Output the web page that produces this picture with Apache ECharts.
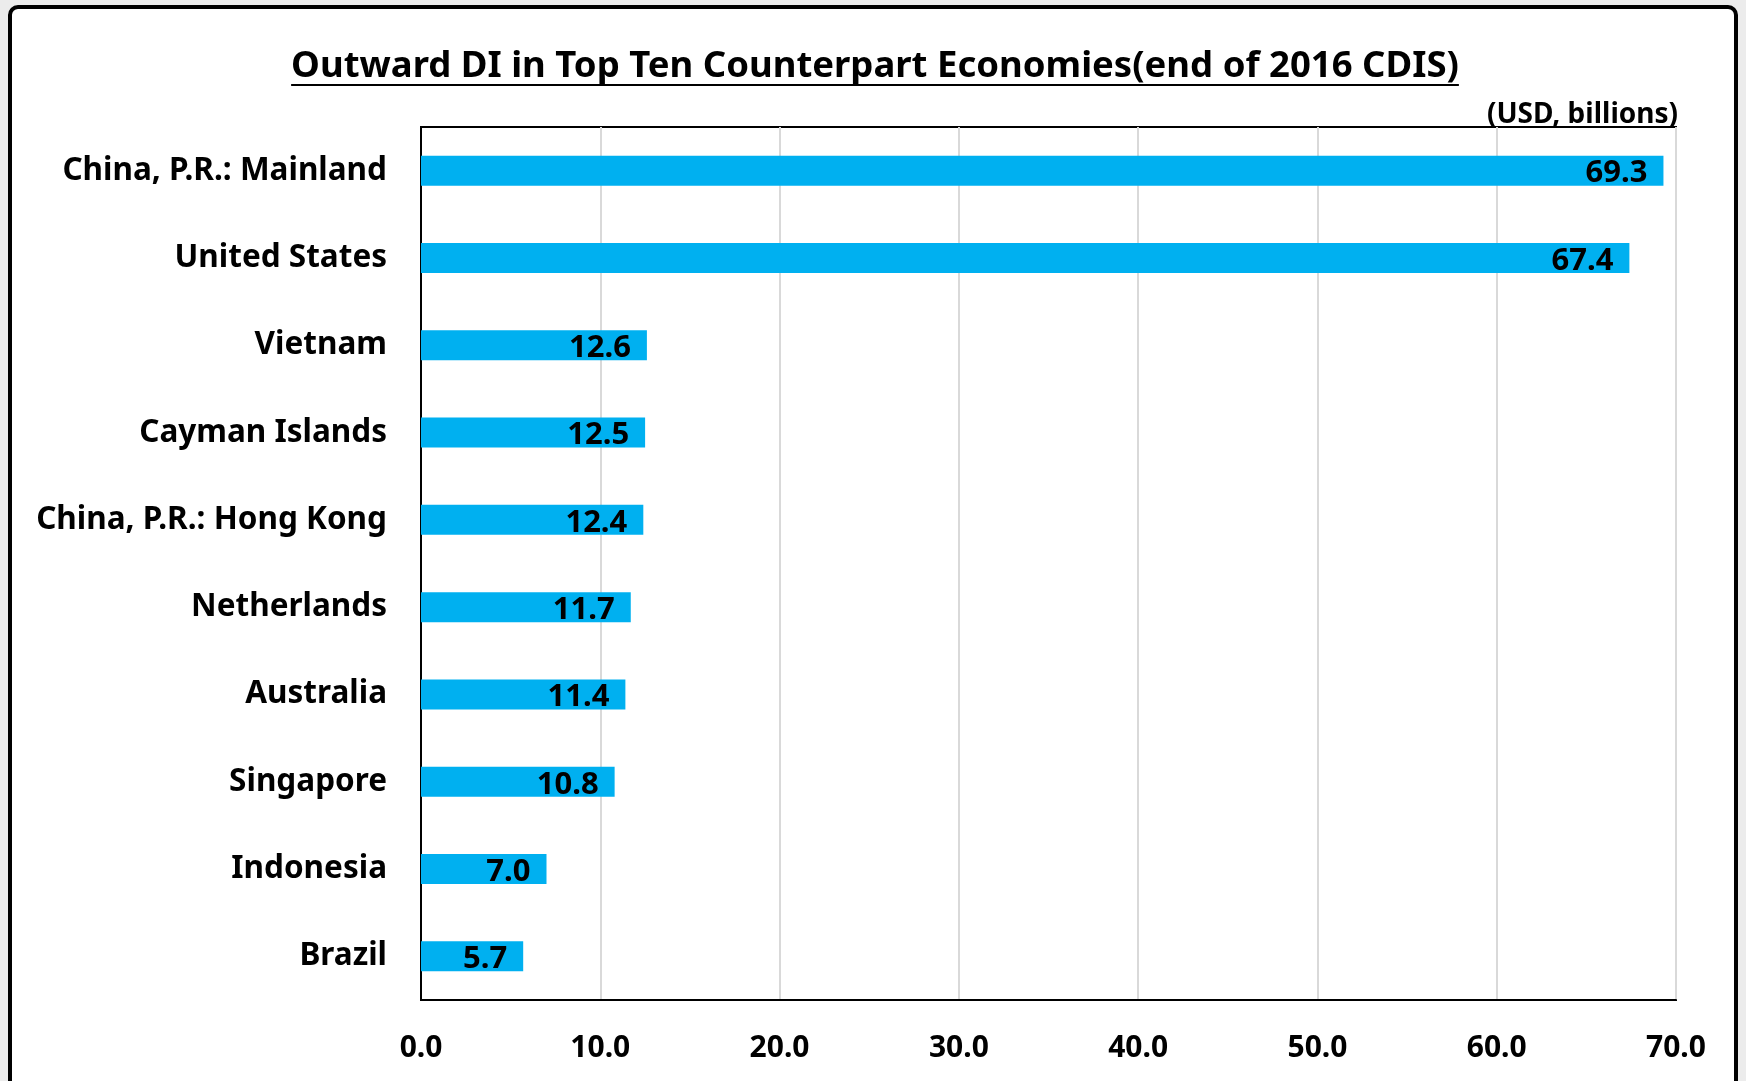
<!DOCTYPE html>
<html>
<head>
<meta charset="utf-8">
<script src="https://cdn.jsdelivr.net/npm/echarts@6/dist/echarts.min.js"></script>
<style>
html,body{margin:0;padding:0;background:#ececec;}
#main{width:1746px;height:1081px;}
</style>
</head>
<body>
<div id="main"></div>
<script>
const titleText = 'Outward DI in Top Ten Counterpart Economies(end of 2016 CDIS)';
const unitText = '(USD, billions)';
const categories = ['China, P.R.: Mainland','United States','Vietnam','Cayman Islands','China, P.R.: Hong Kong','Netherlands','Australia','Singapore','Indonesia','Brazil'];
const values = [69.3, 67.4, 12.6, 12.5, 12.4, 11.7, 11.4, 10.8, 7.0, 5.7];
const xTicks = {min: 0, max: 70, interval: 10};

const FONT = '"Noto Sans", "Liberation Sans", sans-serif';
const titleSize = 36.5;
const cvs = document.createElement('canvas').getContext('2d');
cvs.font = 'bold ' + titleSize + 'px ' + FONT;
const titleW = cvs.measureText(titleText).width;
const titleCX = 875;

const chart = echarts.init(document.getElementById('main'));
chart.setOption({
  backgroundColor: '#ececec',
  animation: false,
  graphic: [
    {type: 'rect', z: -100, shape: {x: 10, y: 7, width: 1726, height: 1100, r: 8},
     style: {fill: '#ffffff', stroke: '#000000', lineWidth: 4}},
    {type: 'text', z: 10, x: titleCX, y: 67,
     style: {text: titleText, font: 'bold ' + titleSize + 'px ' + FONT, fill: '#000', align: 'center', verticalAlign: 'middle'}},
    {type: 'line', z: 10, shape: {x1: titleCX - titleW / 2, y1: 85, x2: titleCX + titleW / 2, y2: 85},
     style: {stroke: '#000', lineWidth: 2}},
    {type: 'text', z: 10, x: 1678, y: 115,
     style: {text: unitText, font: 'bold 28px ' + FONT, fill: '#000', align: 'right', verticalAlign: 'middle'}}
  ],
  grid: {left: 421, right: 70, top: 127, bottom: 81, show: true, borderColor: '#000', borderWidth: 2, backgroundColor: '#fff', containLabel: false},
  xAxis: {
    type: 'value', min: xTicks.min, max: xTicks.max, interval: xTicks.interval,
    axisLine: {show: true, lineStyle: {color: '#000', width: 2}},
    axisTick: {show: false},
    splitLine: {show: true, lineStyle: {color: '#d9d9d9', width: 2}},
    axisLabel: {margin: 33, color: '#000', fontFamily: FONT, fontWeight: 'bold', fontSize: 30, formatter: v => v.toFixed(1)}
  },
  yAxis: {
    type: 'category', data: categories, inverse: true,
    axisLine: {show: true, lineStyle: {color: '#000', width: 2}},
    axisTick: {show: false},
    axisLabel: {margin: 34, padding: [4, 0, 0, 0], color: '#000', fontFamily: FONT, fontWeight: 'bold', fontSize: 31.5}
  },
  series: [{
    type: 'bar', data: values, barWidth: 30,
    itemStyle: {color: '#00B0F0'},
    label: {show: true, position: 'insideRight', distance: 16, offset: [0, 3], color: '#000', fontFamily: FONT, fontWeight: 'bold', fontSize: 31, formatter: p => p.value.toFixed(1)}
  }]
});
</script>
</body>
</html>
